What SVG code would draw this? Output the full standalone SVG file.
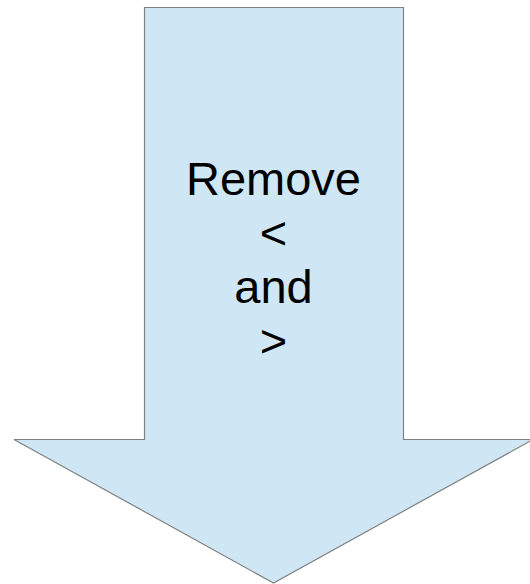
<svg xmlns="http://www.w3.org/2000/svg" width="530" height="584" viewBox="0 0 530 584">
  <style>
    .arrow { fill: #cfe7f5; stroke: #808080; stroke-width: 1.2; stroke-linejoin: miter; }
    .label { font-family: "Liberation Sans", Arial, sans-serif; font-size: 47px; fill: #000000; text-anchor: middle; }
  </style>
  <rect width="530" height="584" fill="#ffffff"/>
  <g id="down-arrow">
    <path class="arrow" d="M144.5,7.5 H403.5 V439.5 H533 L273.5,583 L14,439.5 H144.5 Z"/>
    <text class="label" x="273.5" y="195">Remove</text>
    <text class="label" x="273.5" y="249">&lt;</text>
    <text class="label" x="273.5" y="303">and</text>
    <text class="label" x="273.5" y="357">&gt;</text>
  </g>
</svg>
